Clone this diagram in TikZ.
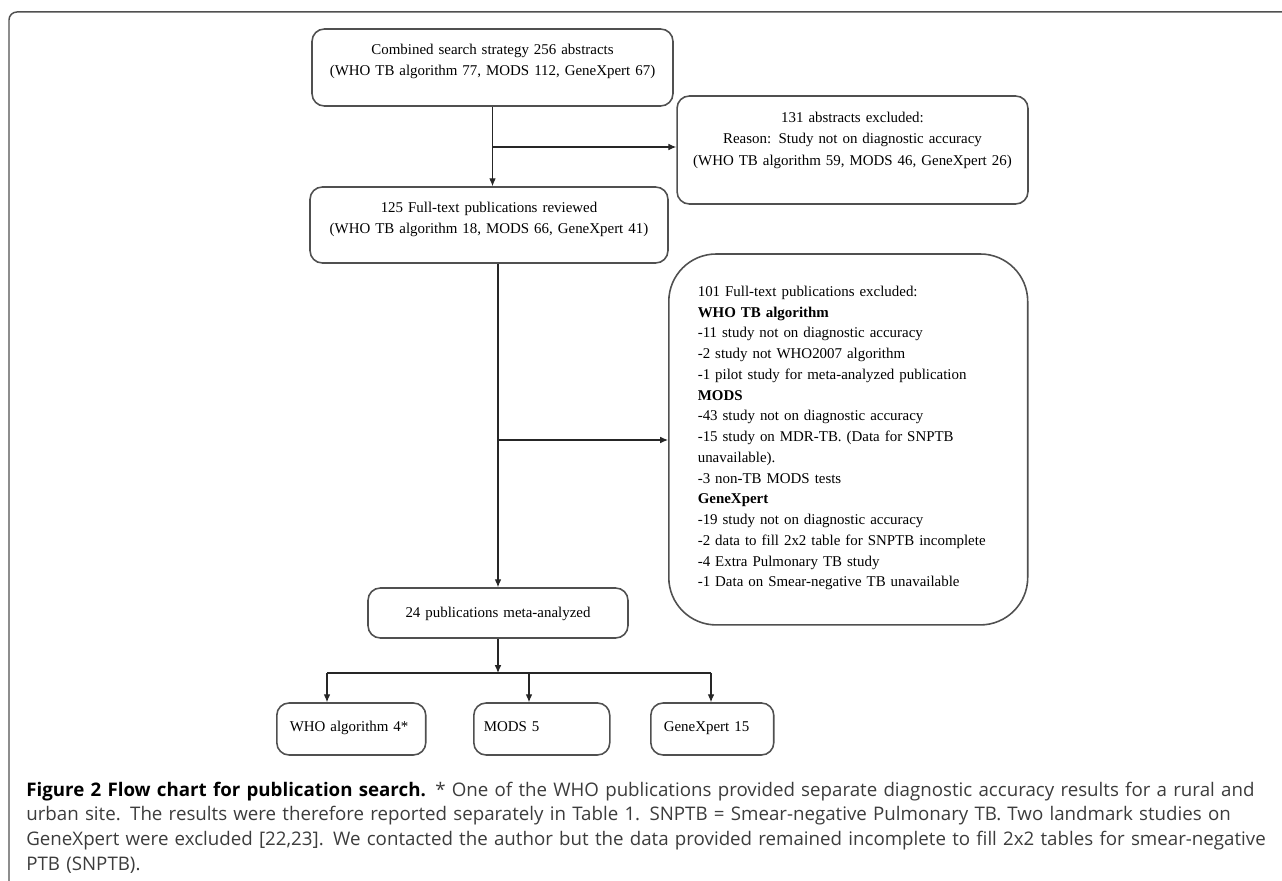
\documentclass[tikz,border=0pt]{standalone}
\usepackage{fontspec}
\setmainfont{Liberation Serif}
\newfontfamily\capfont{Open Sans}
\usetikzlibrary{arrows.meta}
\definecolor{boxline}{HTML}{505050}
\definecolor{capgray}{HTML}{3C3C3C}

\begin{document}
\begin{tikzpicture}[x=0.02cm,y=-0.02cm,
  box/.style={draw=boxline,line width=0.9pt,rounded corners=7pt,inner sep=0pt,align=center,
    font=\fontsize{8.5pt}{12.2pt}\selectfont,anchor=base},
  leftbox/.style={box,align=left,anchor=base west},
  link/.style={line width=0.6pt,draw=black!85},
  >={Latex[length=4.5pt,width=3.8pt]}]
\useasboundingbox (0,0) rectangle (1282,881);
\draw[boxline,line width=0.85pt,rounded corners=4.5pt] (9,881) -- (9,12) -- (1282,12);

\node[box,text width=7.22cm,text height=14.51pt,text depth=29.31pt] (search) at (492.5,54.5)
  {Combined search strategy 256 abstracts\\(WHO TB algorithm 77, MODS 112, GeneXpert 67)};
\node[box,text width=7.02cm,text height=15.08pt,text depth=46.38pt] (absexcl) at (852.5,122.5)
  {131 abstracts excluded:\\Reason: Study not on diagnostic accuracy\\(WHO TB algorithm 59, MODS 46, GeneXpert 26)};
\node[box,text width=7.16cm,text height=14.51pt,text depth=28.74pt] (fulltext) at (489,212.5)
  {125 Full-text publications reviewed\\(WHO TB algorithm 18, MODS 66, GeneXpert 41)};
\node[leftbox,rounded corners=27pt,inner xsep=16.5pt,text width=6.02cm,text height=24.19pt,text depth=186.93pt,
  font=\fontsize{8.5pt}{11.8pt}\selectfont] (textexcl) at (668,296.5)
  {101 Full-text publications excluded:\\
   \textbf{WHO TB algorithm}\\
   -11 study not on diagnostic accuracy\\
   -2 study not WHO2007 algorithm\\
   -1 pilot study for meta-analyzed publication\\
   \textbf{MODS}\\
   -43 study not on diagnostic accuracy\\
   -15 study on MDR-TB. (Data for SNPTB\\
   unavailable).\\
   -3 non-TB MODS tests\\
   \textbf{GeneXpert}\\
   -19 study not on diagnostic accuracy\\
   -2 data to fill 2x2 table for SNPTB incomplete\\
   -4 Extra Pulmonary TB study\\
   -1 Data on Smear-negative TB unavailable};
\node[box,text width=5.2cm,text height=16.79pt,text depth=11.67pt] (meta) at (498,617.5)
  {24 publications meta-analyzed};
\node[leftbox,inner xsep=7.4pt,text width=2.46cm,text height=16.22pt,text depth=13.37pt] (who) at (276,731.5)
  {WHO algorithm 4*};
\node[leftbox,inner xsep=5.7pt,text width=2.32cm,text height=16.22pt,text depth=13.37pt] (mods) at (473,731.5)
  {MODS 5};
\node[leftbox,inner xsep=7.4pt,text width=1.94cm,text height=16.22pt,text depth=13.37pt] (gx) at (650,731.5)
  {GeneXpert 15};

\coordinate (b1) at (492.5,147);
\coordinate (b2) at (498,440);
\coordinate (hl) at (327,673);
\coordinate (hm) at (529,673);
\coordinate (hr) at (711,673);
\draw[link,->] (search.south) -- (search.south |- fulltext.north);
\draw[link,->] (b1) -- (b1 -| absexcl.west);
\draw[link,->] (meta.north |- fulltext.south) -- (meta.north);
\draw[link,->] (b2) -- (b2 -| textexcl.west);
\draw[link,->] (meta.south) -- (meta.south |- hm);
\draw[link] (hl) -- (hr);
\foreach \c/\b in {hl/who,hm/mods,hr/gx}
  \draw[link,->] (\c) -- (\c |- \b.north);

\node[anchor=base west,text width=26cm,align=left,inner sep=0pt,text=capgray,
  font=\capfont\fontsize{10.65pt}{14.2pt}\selectfont] (caption) at (26,796)
  {\textbf{\color{black}Figure 2 Flow chart for publication search.} * One of the WHO publications provided separate diagnostic accuracy results for a rural and\\
   urban site. The results were therefore reported separately in Table 1. SNPTB = Smear-negative Pulmonary TB. Two landmark studies on\\
   GeneXpert were excluded [22,23]. We contacted the author but the data provided remained incomplete to fill 2x2 tables for smear-negative\\
   PTB (SNPTB).};
\end{tikzpicture}
\end{document}
